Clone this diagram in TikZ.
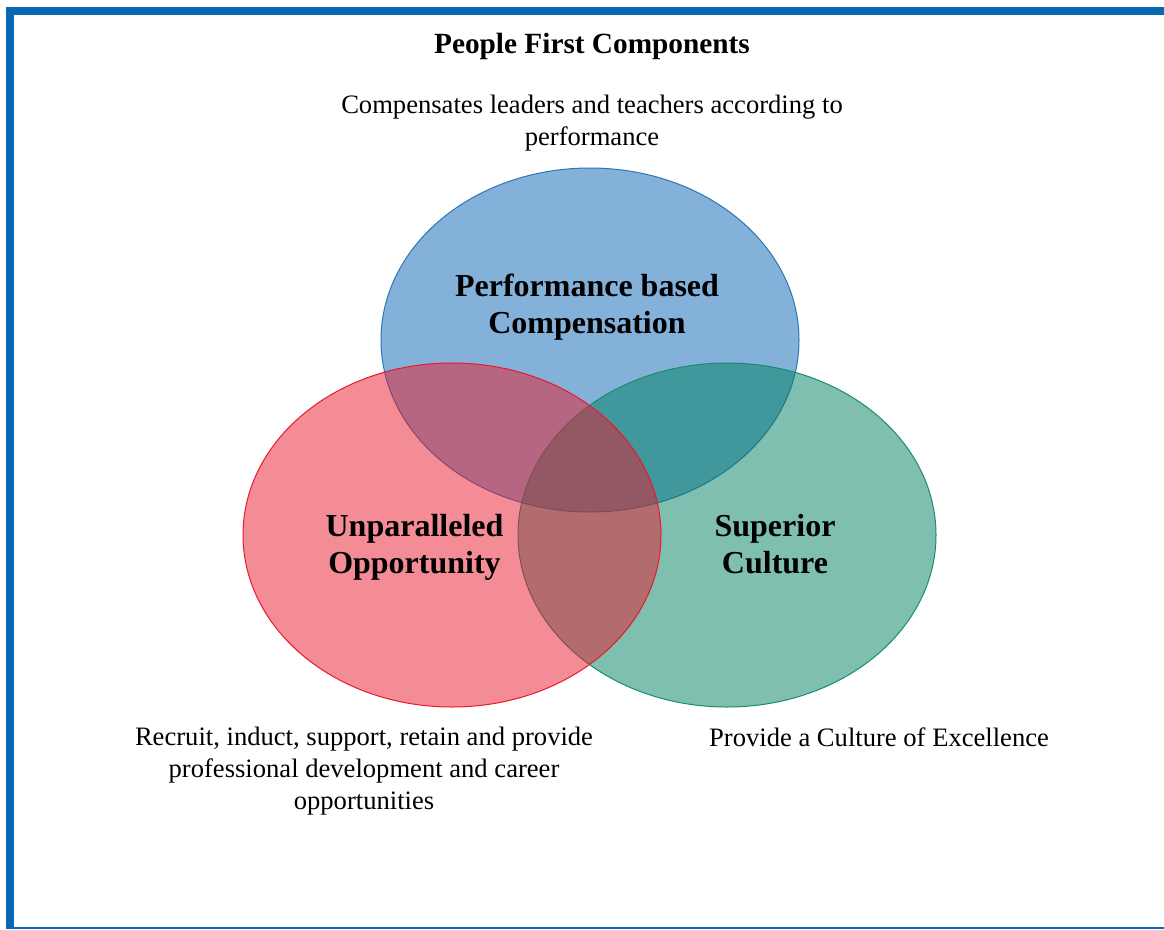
\documentclass[tikz,border=0pt]{standalone}
\usepackage{fontspec}
\setmainfont{Liberation Serif}
\definecolor{framebl}{RGB}{8,104,180}
\definecolor{blfill}{RGB}{10,100,180}
\definecolor{bldraw}{RGB}{46,117,182}
\definecolor{rdfill}{RGB}{232,25,44}
\definecolor{rddraw}{RGB}{232,25,44}
\definecolor{grfill}{RGB}{0,128,96}
\definecolor{grdraw}{RGB}{26,140,110}
\tikzset{
  titletext/.style={font=\fontsize{29.3}{34}\selectfont\bfseries, inner sep=0pt, anchor=base},
  desctext/.style={font=\fontsize{26.6}{32}\selectfont, align=center, inner sep=0pt, anchor=base},
  lbltext/.style={font=\fontsize{32}{37}\selectfont\bfseries, align=center, inner sep=0pt, anchor=base},
  venn/.style={ellipse, minimum width=418, minimum height=344, inner sep=0pt, line width=1pt, fill opacity=0.5, draw opacity=1},
}
\usetikzlibrary{shapes.geometric}
\begin{document}
\begin{tikzpicture}[x=1pt,y=-1pt]
\useasboundingbox (0,0) rectangle (1164,929);
% frame
\fill[framebl] (6,6.7) rectangle (1164,14.7);
\fill[framebl] (6,6.7) rectangle (14,929);
\fill[framebl] (6,926.5) rectangle (1164,929);
% ellipses
\node[venn, fill=blfill, draw=bldraw] (perf) at (590,340) {};
\node[venn, fill=grfill, draw=grdraw] (cult) at (727,535) {};
\node[venn, fill=rdfill, draw=rddraw] (opp) at (452,535) {};
% texts (base anchor = baseline of last line)
\node[titletext] (title) at (592,53) {People First Components};
\node[desctext] (d1) at (592,145) {Compensates leaders and teachers according to\\performance};
\node[lbltext] (l1) at (587,333) {Performance based\\Compensation};
\node[lbltext] (l2) at (414.5,573) {Unparalleled\\Opportunity};
\node[lbltext] (l3) at (775,573) {Superior\\Culture};
\node[desctext] (d2) at (364,809) {Recruit, induct, support, retain and provide\\professional development and career\\opportunities};
\node[desctext] (d3) at (879,746) {Provide a Culture of Excellence};
\end{tikzpicture}
\end{document}
